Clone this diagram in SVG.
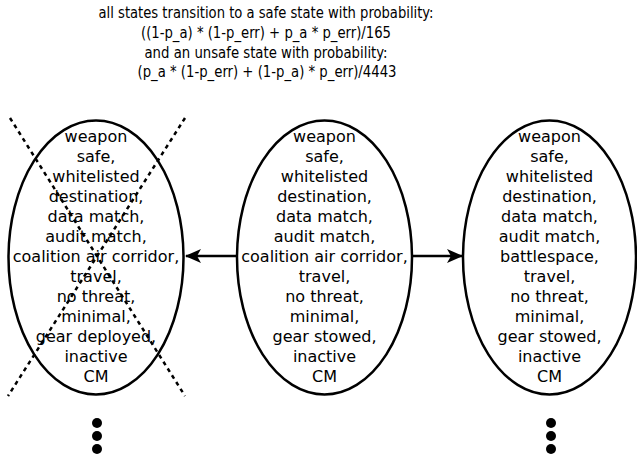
<svg xmlns="http://www.w3.org/2000/svg" width="637" height="456" viewBox="0 0 637 456">
<defs>
<style>
text{font-family:"DejaVu Sans",sans-serif;font-size:16px;fill:#000;text-anchor:middle}
#title text{font-family:"DejaVu Sans Condensed","DejaVu Sans",sans-serif;font-size:16px}
.node ellipse{fill:#fff;stroke:#000;stroke-width:2.5}
.conn line{stroke:#000;stroke-width:2.5}
.cross{stroke:#000;stroke-width:2.5;stroke-dasharray:4,4;fill:none}
.dot{fill:#000}
</style>
<marker id="ah" viewBox="0 0 16 14" refX="15" refY="7" markerUnits="userSpaceOnUse" markerWidth="16" markerHeight="14" orient="auto">
<path d="M0,0 L16,7 L0,14 L4,7 Z" fill="#000"/>
</marker>
</defs>
<g id="title">
<text x="266" y="18" textLength="335" lengthAdjust="spacingAndGlyphs">all states transition to a safe state with probability:</text>
<text x="266" y="38" textLength="250" lengthAdjust="spacingAndGlyphs">((1-p_a) * (1-p_err) + p_a * p_err)/165</text>
<text x="266" y="58" textLength="243" lengthAdjust="spacingAndGlyphs">and an unsafe state with probability:</text>
<text x="267" y="77" textLength="259" lengthAdjust="spacingAndGlyphs">(p_a * (1-p_err) + (1-p_a) * p_err)/4443</text>
</g>
<g id="left" class="node">
<ellipse cx="96" cy="257.5" rx="87.5" ry="137"/>
<text x="96" y="142">weapon</text>
<text x="96" y="162">safe,</text>
<text x="96" y="182">whitelisted</text>
<text x="96" y="202">destination,</text>
<text x="96" y="222">data match,</text>
<text x="96" y="242">audit match,</text>
<text x="96" y="262">coalition air corridor,</text>
<text x="96" y="282">travel,</text>
<text x="96" y="302">no threat,</text>
<text x="96" y="322">minimal,</text>
<text x="96" y="342">gear deployed,</text>
<text x="96" y="362">inactive</text>
<text x="96" y="382">CM</text>
<line class="cross" x1="10" y1="118" x2="185" y2="396"/>
<line class="cross" x1="185" y1="118" x2="8" y2="396"/>
</g>
<g id="middle" class="node">
<ellipse cx="324.5" cy="257.5" rx="87.5" ry="137"/>
<text x="324.5" y="142">weapon</text>
<text x="324.5" y="162">safe,</text>
<text x="324.5" y="182">whitelisted</text>
<text x="324.5" y="202">destination,</text>
<text x="324.5" y="222">data match,</text>
<text x="324.5" y="242">audit match,</text>
<text x="324.5" y="262">coalition air corridor,</text>
<text x="324.5" y="282">travel,</text>
<text x="324.5" y="302">no threat,</text>
<text x="324.5" y="322">minimal,</text>
<text x="324.5" y="342">gear stowed,</text>
<text x="324.5" y="362">inactive</text>
<text x="324.5" y="382">CM</text>
</g>
<g id="right" class="node">
<ellipse cx="549.5" cy="257.5" rx="86.5" ry="137"/>
<text x="549.5" y="142">weapon</text>
<text x="549.5" y="162">safe,</text>
<text x="549.5" y="182">whitelisted</text>
<text x="549.5" y="202">destination,</text>
<text x="549.5" y="222">data match,</text>
<text x="549.5" y="242">audit match,</text>
<text x="549.5" y="262">battlespace,</text>
<text x="549.5" y="282">travel,</text>
<text x="549.5" y="302">no threat,</text>
<text x="549.5" y="322">minimal,</text>
<text x="549.5" y="342">gear stowed,</text>
<text x="549.5" y="362">inactive</text>
<text x="549.5" y="382">CM</text>
</g>
<g id="connectors" class="conn">
<line x1="237" y1="256" x2="186" y2="256" marker-end="url(#ah)"/>
<line x1="412" y1="256" x2="462" y2="256" marker-end="url(#ah)"/>
</g>
<g id="dots-left">
<circle class="dot" cx="97" cy="423" r="5"/>
<circle class="dot" cx="97" cy="436" r="5"/>
<circle class="dot" cx="97" cy="449" r="5"/>
</g>
<g id="dots-right">
<circle class="dot" cx="551" cy="423" r="5"/>
<circle class="dot" cx="551" cy="436" r="5"/>
<circle class="dot" cx="551" cy="449" r="5"/>
</g>
</svg>
